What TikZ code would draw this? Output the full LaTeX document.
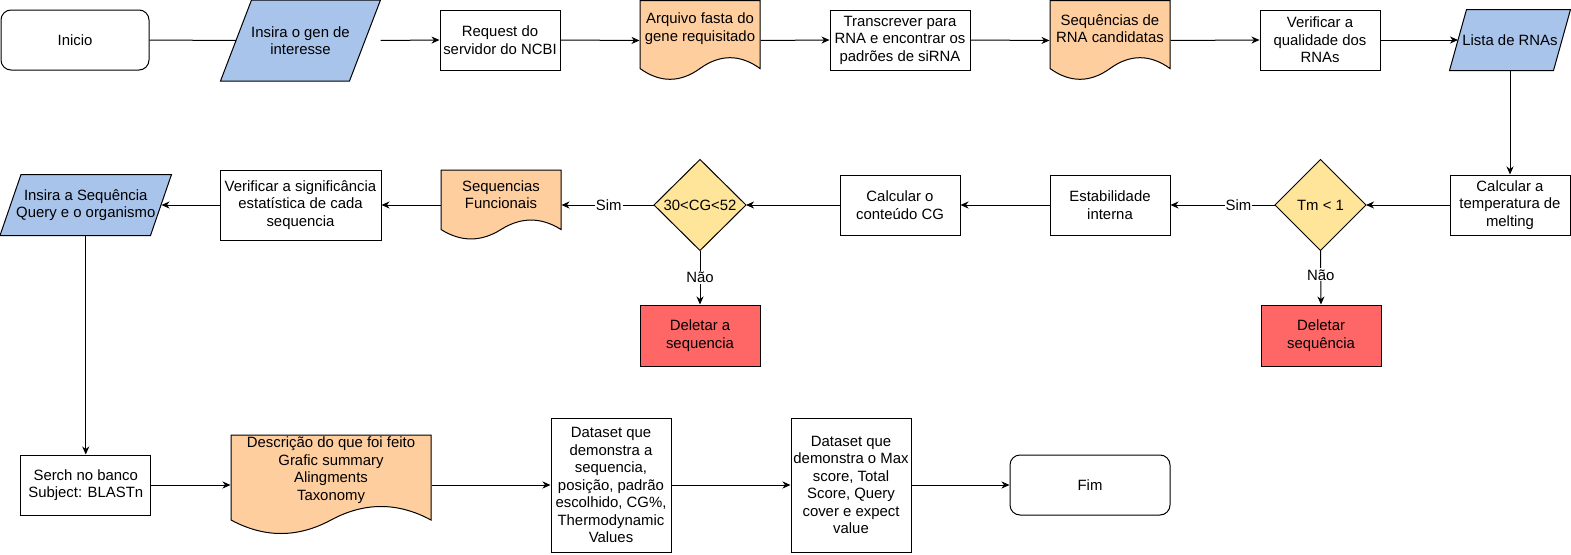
\documentclass[tikz,border=0pt]{standalone}
\usepackage{fontspec}
\setmainfont{Liberation Sans}
\usetikzlibrary{arrows.meta,backgrounds,calc}
\definecolor{pblue}{HTML}{A9C4EB}
\definecolor{porange}{HTML}{FFCE9F}
\definecolor{pyellow}{HTML}{FFE599}
\definecolor{pred}{HTML}{FF6666}
\newcommand\docshape[4]{\draw[shp,fill=porange] (#1,#2) -- ({#1+#3},#2) -- ({#1+#3},{#2+0.85*#4}) .. controls ({#1+0.8333*#3},{#2+0.67*#4}) and ({#1+0.6667*#3},{#2+0.67*#4}) .. ({#1+0.5*#3},{#2+0.85*#4}) .. controls ({#1+0.3333*#3},{#2+1.03*#4}) and ({#1+0.1667*#3},{#2+1.03*#4}) .. (#1,{#2+0.85*#4}) -- cycle;}
\begin{document}
\begin{tikzpicture}[x=1pt,y=-1pt,
  base/.style={align=center, inner sep=0pt, font=\fontsize{14.9}{17.5}\selectfont, line width=1pt},
  box/.style={base, draw, fill=white, rectangle},
  rbox/.style={box, rounded corners=10pt},
  ghost/.style={base, rectangle},
  flow/.style={line width=1pt, -{Stealth[length=8pt,width=7pt,inset=2.5pt]}},
  plain/.style={line width=1pt},
  lbl/.style={fill=white, inner sep=1pt, font=\fontsize{14.9}{17.5}\selectfont},
  shp/.style={draw, line width=1pt}]
\useasboundingbox (0,0) rectangle (1571,554);
% top row
\node[rbox, minimum width=148pt, minimum height=60pt] (inicio) at (75,40) {Inicio};
\node[ghost, minimum width=159pt, minimum height=80pt] (gen) at (300.5,40.5) {Insira o gen de\\interesse};
\node[box, minimum width=120pt, minimum height=60pt] (ncbi) at (500,40) {Request do\\servidor do NCBI};
\node[ghost, minimum width=120pt, minimum height=80pt, label={[base,yshift=12pt]center:{Arquivo fasta do\\gene requisitado}}] (fasta) at (700,40.5) {};
\node[box, minimum width=140pt, minimum height=60pt] (trans) at (900,40) {Transcrever para\\RNA e encontrar os\\padrões de siRNA};
\node[ghost, minimum width=120pt, minimum height=80pt, label={[base,yshift=12pt]center:{Sequências de\\RNA candidatas}}] (cand) at (1110,40.5) {};
\node[box, minimum width=120pt, minimum height=60pt] (qual) at (1320,40) {Verificar a\\qualidade dos\\RNAs};
\node[ghost, minimum width=120pt, minimum height=60pt] (lista) at (1510,40) {Lista de RNAs};
% middle row
\node[box, minimum width=120pt, minimum height=60pt] (calc) at (1510,205) {Calcular a\\temperatura de\\melting};
\node[ghost, minimum width=90pt, minimum height=90pt] (tm) at (1320.5,205) {Tm < 1};
\node[box, fill=pred, minimum width=120pt, minimum height=61pt] (del1) at (1321,335.5) {Deletar\\sequência};
\node[box, minimum width=120pt, minimum height=60pt] (estab) at (1110,205) {Estabilidade\\interna};
\node[box, minimum width=120pt, minimum height=60pt] (cg) at (900,205) {Calcular o\\conteúdo CG};
\node[ghost, minimum width=91pt, minimum height=90pt] (cgd) at (700,205) {30<CG<52};
\node[box, fill=pred, minimum width=120pt, minimum height=61pt] (del2) at (700,335.5) {Deletar a\\sequencia};
\node[ghost, minimum width=120pt, minimum height=70pt, label={[base,yshift=10.5pt]center:{Sequencias\\Funcionais}}] (func) at (501,205) {};
\node[box, minimum width=161pt, minimum height=70pt] (signif) at (300.5,205) {Verificar a significância\\estatística de cada\\sequencia};
\node[ghost, minimum width=170.5pt, minimum height=60pt] (query) at (85.75,205) {Insira a Sequência\\Query e o organismo};
% bottom row
\node[box, minimum width=130pt, minimum height=60pt] (serch) at (85.75,485) {Serch no banco\\Subject: BLASTn};
\node[ghost, minimum width=200pt, minimum height=100pt, label={[base,yshift=15pt]center:{Descrição do que foi feito\\Grafic summary\\Alingments\\Taxonomy}}] (desc) at (331,485) {};
\node[box, minimum width=120pt, minimum height=134pt] (ds1) at (611,485) {Dataset que\\demonstra a\\sequencia,\\posição, padrão\\escolhido, CG\%,\\Thermodynamic\\Values};
\node[box, minimum width=120pt, minimum height=134pt] (ds2) at (851,485) {Dataset que\\demonstra o Max\\score, Total\\Score, Query\\cover e expect\\value};
\node[rbox, minimum width=160pt, minimum height=60pt] (fim) at (1090,485) {Fim};
% shapes behind text
\begin{scope}[on background layer]
  \draw[shp,fill=pblue] ($(gen.north west)+(31,0)$) -- (gen.north east) -- ($(gen.south east)+(-31,0)$) -- (gen.south west) -- cycle;
  \draw[shp,fill=pblue] ($(lista.north west)+(17,0)$) -- (lista.north east) -- ($(lista.south east)+(-17,0)$) -- (lista.south west) -- cycle;
  \draw[shp,fill=pblue] ($(query.north west)+(21,0)$) -- (query.north east) -- ($(query.south east)+(-21,0)$) -- (query.south west) -- cycle;
  \draw[shp,fill=pyellow] (tm.north) -- (tm.east) -- (tm.south) -- (tm.west) -- cycle;
  \draw[shp,fill=pyellow] (cgd.north) -- (cgd.east) -- (cgd.south) -- (cgd.west) -- cycle;
  \docshape{640}{0.5}{120}{80}
  \docshape{1050}{0.5}{120}{80}
  \docshape{441}{170}{120}{70}
  \docshape{231}{435}{200}{100}
\end{scope}
% connector end points on slanted edges
\coordinate (genin) at ($(gen.west)+(15.5,0)$);
\coordinate (listain) at ($(lista.west)+(8.5,0)$);
\coordinate (queryin) at ($(query.east)+(-10,0)$);
% connectors
\draw[plain] (inicio.east) -- (genin);
\draw[flow] (gen.east) -- (ncbi.west);
\draw[flow] (ncbi.east) -- (fasta.west);
\draw[flow] (fasta.east) -- (trans.west);
\draw[flow] (trans.east) -- (cand.west);
\draw[flow] (cand.east) -- (qual.west);
\draw[flow] (qual.east) -- (listain);
\draw[flow] (lista.south) -- (calc.north);
\draw[flow] (calc.west) -- (tm.east);
\draw[flow] (tm.west) -- node[lbl,pos=0.35]{Sim} (estab.east);
\draw[flow] (tm.south) -- node[lbl,pos=0.45]{Não} (del1.north);
\draw[flow] (estab.west) -- (cg.east);
\draw[flow] (cg.west) -- (cgd.east);
\draw[flow] (cgd.west) -- node[lbl,pos=0.49]{Sim} (func.east);
\draw[flow] (cgd.south) -- node[lbl,pos=0.5]{Não} (del2.north);
\draw[flow] (func.west) -- (signif.east);
\draw[flow] (signif.west) -- (queryin);
\draw[flow] (query.south) -- (serch.north);
\draw[flow] (serch.east) -- (desc.west);
\draw[flow] (desc.east) -- (ds1.west);
\draw[flow] (ds1.east) -- (ds2.west);
\draw[flow] (ds2.east) -- (fim.west);
\end{tikzpicture}
\end{document}
